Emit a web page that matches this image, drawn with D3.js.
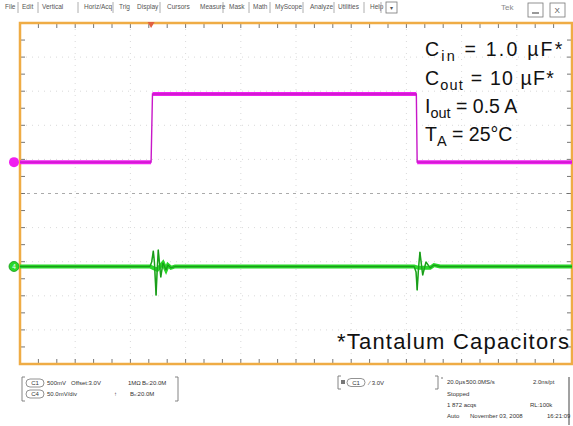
<!DOCTYPE html>
<html><head><meta charset="utf-8">
<script src="https://cdn.jsdelivr.net/npm/d3@7"></script>
<style>
html,body{margin:0;padding:0;background:#fff;}
svg{display:block;font-family:"Liberation Sans",Arial,sans-serif;}
</style></head>
<body>
<svg id="c" width="573" height="426"></svg>
<script>
// ---- data (time in µs, levels in vertical divisions) ----
const menuItems = ["File","Edit","Vertical","Horiz/Acq","Trig","Display","Cursors","Measure","Mask","Math","MyScope","Analyze","Utilities","Help"];
const c1Time  = [0, 47.5, 48.0, 143.6, 143.9, 200];
const c1Level = [0.92, 0.92, 2.92, 2.92, 0.92, 0.92];
const c4Time  = [0, 47.1, 47.7, 48.3, 48.7, 49.3, 49.7, 50.1, 51.0, 51.8, 52.9, 53.6, 54.7, 56.2,
                 142.8, 143.5, 143.9, 144.4, 144.9, 145.9, 147.1, 148.6, 150.0, 152.2, 200];
const c4Level = [-2.14, -2.14, -2.01, -1.69, -2.01, -2.98, -2.24, -1.66, -2.45, -2.04, -2.24, -2.10, -2.18, -2.14,
                 -2.14, -2.30, -2.83, -2.18, -1.72, -2.39, -2.01, -2.18, -2.10, -2.14, -2.14];
const notes = [["C","in"," = 1.0 \u00b5F*"],["C","out"," = 10 \u00b5F*"],["I","out"," = 0.5 A"],["T","A"," = 25\u00b0C"]];
const footNote = "*Tantalum Capacitors";
const xDivs = 10, yDivs = 10;
const timeSpan = [0, 200], divSpan = [-5, 5];

const svg = d3.select("#c");
const X0 = 20, X1 = 572, Y0 = 23, Y1 = 364;
const x = d3.scaleLinear().domain(timeSpan).range([X0, X1]);
const y = d3.scaleLinear().domain(divSpan).range([Y1, Y0]);

// ---- menu bar ----
const menu = svg.append("g").attr("font-size", 6.5).attr("fill", "#555");
const menuX = [5, 22, 42, 84, 119, 137, 167, 200, 229, 253, 275, 310, 338, 370];
const sepX  = [18, 38, 78, 113, 160, 223, 249, 270, 303, 334, 364, 381];
menuItems.forEach((m,i)=>menu.append("text").attr("x", menuX[i]).attr("y", 9).text(m));
sepX.forEach(s=>menu.append("line").attr("x1",s).attr("x2",s).attr("y1",2).attr("y2",13).attr("stroke","#999").attr("stroke-width",0.8));
menu.append("rect").attr("x",386).attr("y",2).attr("width",11).attr("height",11).attr("fill","#fff").attr("stroke","#777").attr("stroke-width",0.8);
menu.append("text").attr("x",389.5).attr("y",9.5).attr("font-size",6).text("\u25be");
menu.append("text").attr("x",501).attr("y",10).attr("font-size",8).attr("fill","#888").text("Tek");
menu.append("rect").attr("x",528).attr("y",3).attr("width",15).attr("height",14).attr("fill","#fff").attr("stroke","#777").attr("stroke-width",0.8);
menu.append("line").attr("x1",532).attr("x2",539).attr("y1",13).attr("y2",13).attr("stroke","#555").attr("stroke-width",1.2);
menu.append("rect").attr("x",550).attr("y",3).attr("width",15).attr("height",14).attr("fill","#fff").attr("stroke","#777").attr("stroke-width",0.8);
menu.append("text").attr("x",554.5).attr("y",13).attr("font-size",8).text("X");

// ---- graticule ----
const g = svg.append("g");
d3.range(1, xDivs).forEach(i=>{
  const t = timeSpan[0] + i*(timeSpan[1]-timeSpan[0])/xDivs;
  g.append("line").attr("x1",x(t)).attr("x2",x(t)).attr("y1",Y0).attr("y2",Y1)
   .attr("stroke", "#cfcfcf").attr("stroke-width",0.8).attr("stroke-dasharray","1,5");
});
d3.range(1, yDivs).forEach(i=>{
  const v = divSpan[0] + i;
  g.append("line").attr("x1",X0).attr("x2",X1).attr("y1",y(v)).attr("y2",y(v))
   .attr("stroke", v===0 ? "#aaa" : "#cfcfcf").attr("stroke-width", v===0?1:0.8)
   .attr("stroke-dasharray", v===0 ? "3,4" : "1,5");
});
const xTicks = d3.range(0, xDivs*3+1).map(k=>timeSpan[0]+k*(timeSpan[1]-timeSpan[0])/(xDivs*3));
const yTicks = d3.range(0, yDivs*2+1).map(k=>divSpan[0]+k*0.5);
xTicks.forEach(t=>{
  g.append("line").attr("x1",x(t)).attr("x2",x(t)).attr("y1",Y0).attr("y2",Y0+5).attr("stroke","#666").attr("stroke-width",0.9);
  g.append("line").attr("x1",x(t)).attr("x2",x(t)).attr("y1",Y1).attr("y2",Y1-5).attr("stroke","#666").attr("stroke-width",0.9);
});
yTicks.forEach(v=>{
  g.append("line").attr("x1",X0).attr("x2",X0+5).attr("y1",y(v)).attr("y2",y(v)).attr("stroke","#666").attr("stroke-width",0.9);
  g.append("line").attr("x1",X1).attr("x2",X1-5).attr("y1",y(v)).attr("y2",y(v)).attr("stroke","#666").attr("stroke-width",0.9);
});
g.append("rect").attr("x",X0).attr("y",Y0).attr("width",X1-X0).attr("height",Y1-Y0)
 .attr("fill","none").attr("stroke","#efac45").attr("stroke-width",2.5);

// ---- traces ----
const line = d3.line().x(d=>x(d[0])).y(d=>y(d[1]));
const c1 = c1Time.map((t,i)=>[t,c1Level[i]]);
const c4 = c4Time.map((t,i)=>[t,c4Level[i]]);
[[0,1],[2,3],[4,5]].forEach(([a,b])=>{
  svg.append("path").datum([c1[a],c1[b]]).attr("d",line)
     .attr("fill","none").attr("stroke","#f020f0").attr("stroke-width",4);
});
svg.append("path").datum(c1).attr("d",line)
   .attr("fill","none").attr("stroke","#c818c8").attr("stroke-width",1.4);
const base = c4Level[0];
svg.append("path").datum(c4.filter(d=>Math.abs(d[1]-base)<0.12)).attr("d",line)
   .attr("fill","none").attr("stroke","#2ad82a").attr("stroke-width",4);
svg.append("path").datum(c4).attr("d",line)
   .attr("fill","none").attr("stroke","#22b822").attr("stroke-width",1.5).attr("stroke-linejoin","round");
svg.append("path").datum(c4).attr("d",line)
   .attr("fill","none").attr("stroke","#0d6a0d").attr("stroke-width",0.6).attr("opacity",0.6);

// channel markers
svg.append("circle").attr("cx",14).attr("cy",y(c1Level[0])).attr("r",5).attr("fill","#f020f0");
svg.append("circle").attr("cx",14).attr("cy",y(c4Level[0])).attr("r",5).attr("fill","#2ad82a").attr("stroke","#119911").attr("stroke-width",0.8);
svg.append("text").attr("x",14).attr("y",y(c4Level[0])+2.5).attr("text-anchor","middle").attr("font-size",6.5).attr("fill","#fff").text("4");
svg.append("path").attr("d",`M${x(c1Time[1])-3.5},${Y0-1}L${x(c1Time[1])+3.5},${Y0-1}L${x(c1Time[1])},${Y0+5}Z`).attr("fill","#e06040");

// ---- annotations ----
const ann = svg.append("g").attr("font-size",19.5).attr("fill","#111");
const baseY = [56, 85, 113, 141];
const spacing = [2.2, 1.2, 0, 0];
notes.forEach((n,i)=>{
  const t = ann.append("text").attr("x",425).attr("y",baseY[i]).attr("letter-spacing",spacing[i]);
  t.append("tspan").text(n[0]);
  t.append("tspan").attr("font-size",14.5).attr("dy",5).text(n[1]);
  t.append("tspan").attr("dy",-5).text(n[2]);
});
svg.append("text").attr("x",337).attr("y",349).attr("font-size",22).attr("letter-spacing",1.2)
   .attr("fill","#111").text(footNote);

// ---- status panel ----
const st = svg.append("g").attr("font-size",6).attr("fill","#333");
function bracketBox(x0,y0,x1,y1){
  st.append("path").attr("d",`M${x0+3},${y0}L${x0},${y0}L${x0},${y1}L${x0+3},${y1}M${x1-3},${y0}L${x1},${y0}L${x1},${y1}L${x1-3},${y1}`)
    .attr("fill","none").attr("stroke","#777").attr("stroke-width",0.9);
}
function pill(cx,cy,label){
  st.append("rect").attr("x",cx-9).attr("y",cy-4).attr("width",18).attr("height",8).attr("rx",4)
    .attr("fill","#fff").attr("stroke","#777").attr("stroke-width",0.8);
  st.append("text").attr("x",cx).attr("y",cy+2).attr("text-anchor","middle").text(label);
}
bracketBox(22,377,178,401);
pill(35,383,"C1"); pill(35,394,"C4");
st.append("text").attr("x",47).attr("y",385).text("500mV");
st.append("text").attr("x",71).attr("y",385).text("Offset:3.0V");
st.append("text").attr("x",128).attr("y",385).text("1M\u03a9");
st.append("text").attr("x",142).attr("y",385).text("B\u1d65:20.0M");
st.append("text").attr("x",47).attr("y",396).text("50.0mV/div");
st.append("text").attr("x",114).attr("y",396).text("\u2191");
st.append("text").attr("x",130).attr("y",396).text("B\u1d65:20.0M");
bracketBox(338,376,438,389);
st.append("rect").attr("x",341).attr("y",380).attr("width",4).attr("height",4).attr("fill","#777");
pill(356,382.5,"C1");
st.append("text").attr("x",369).attr("y",385).text("\u2215 3.0V");
st.append("path").attr("d","M442,377L442,379").attr("stroke","#777");
st.append("path").attr("d","M569,377L569,425").attr("stroke","#444").attr("stroke-width",1);
st.append("text").attr("x",447).attr("y",384).text("20.0\u00b5s");
st.append("text").attr("x",466).attr("y",384).text("500.0MS/s");
st.append("text").attr("x",533).attr("y",384).text("2.0ns/pt");
st.append("text").attr("x",447).attr("y",396).text("Stopped");
st.append("text").attr("x",447).attr("y",407).text("1 872 acqs");
st.append("text").attr("x",530).attr("y",407).text("RL:100k");
st.append("text").attr("x",447).attr("y",418).text("Auto");
st.append("text").attr("x",470).attr("y",418).text("November 03, 2008");
st.append("text").attr("x",547).attr("y",418).text("16:21:09");
</script>
</body></html>
